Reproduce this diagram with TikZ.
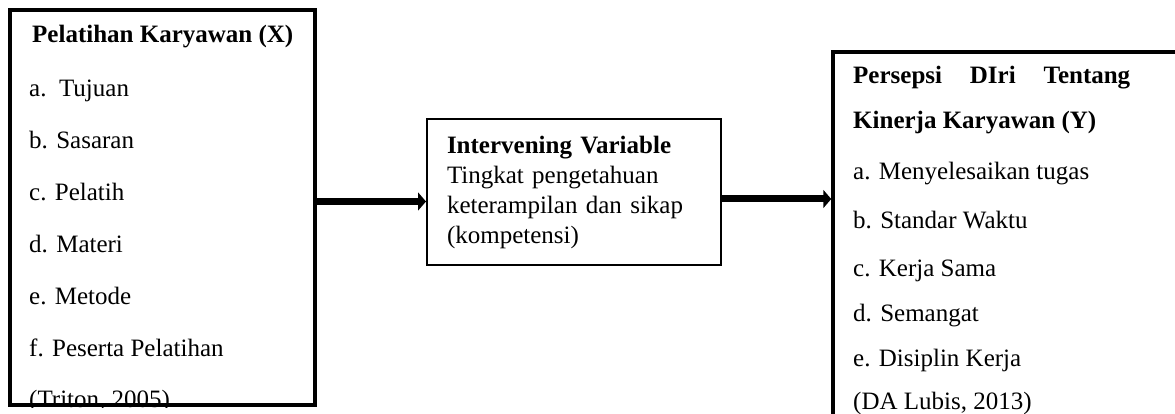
\documentclass[tikz,border=0pt]{standalone}
\usepackage{fontspec}
\setmainfont{Liberation Serif}
\usetikzlibrary{arrows.meta}

\begin{document}
\begin{tikzpicture}[x=1pt,y=-1pt,
    every node/.style={font=\fontsize{25}{30}\selectfont},
    kotak/.style={draw, inner sep=0pt},
    teks/.style={anchor=base west, inner sep=0pt},
    panah/.style={line width=7pt, -{Triangle[length=8pt,width=18pt]}}]
    \path[use as bounding box, clip] (0,0) rectangle (1175,414);

    % Kotak X
    \node[kotak, line width=4pt, minimum width=305pt, minimum height=394.5pt] (lbox) at (162.5,207.75) {};
    \begin{scope}
        \clip (lbox.south west) rectangle (lbox.north east);
        \node[teks, font=\fontsize{25}{30}\selectfont\bfseries] (xjudul) at (32,43) {Pelatihan Karyawan (X)};
        \foreach \isi [count=\i from 0] in {{a.\ \ Tujuan}, {b. Sasaran}, {c. Pelatih}, {d. Materi},
            {e. Metode}, {f. Peserta Pelatihan}, {(Triton, 2005)}} {
            \node[teks] (x\i) at (29,97+51.8*\i) {\isi};
        }
    \end{scope}

    % Variabel antara
    \node[kotak, line width=2pt, minimum width=294pt, minimum height=146pt,
          inner xsep=20pt, text width=254pt, align=left] (mid) at (574,192)
          {\textbf{Intervening Variable}\\Tingkat pengetahuan\\keterampilan dan sikap\\(kompetensi)};

    % Kotak Y
    \node[kotak, line width=3.5pt, minimum width=360pt, minimum height=380pt] (rbox) at (1013,242) {};
    \node[teks, font=\fontsize{25}{30}\selectfont\bfseries] (yjudul1) at (853,84)
        {\makebox[277pt][s]{Persepsi\hfill DIri\hfill Tentang}};
    \node[teks, font=\fontsize{25}{30}\selectfont\bfseries] (yjudul2) at (853,129) {Kinerja Karyawan (Y)};
    \foreach \isi/\yy [count=\i] in {{a. Menyelesaikan tugas}/180, {b. Standar Waktu}/229,
        {c. Kerja Sama}/276, {d. Semangat}/321, {e. Disiplin Kerja}/366, {(DA Lubis, 2013)}/409} {
        \node[teks] (y\i) at (853,\yy) {\isi};
    }

    % Panah
    \draw[panah] (lbox.east |- 0,201.5) -- (mid.west |- 0,201.5);
    \draw[panah] (mid.east |- 0,199) -- (rbox.west |- 0,199);
\end{tikzpicture}
\end{document}
